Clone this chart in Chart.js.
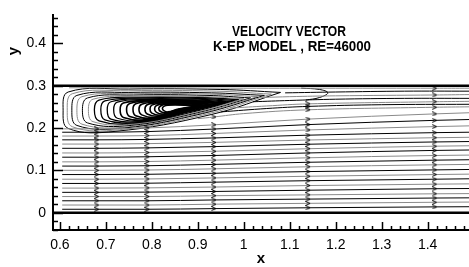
<!DOCTYPE html>
<html>
<head>
<meta charset="utf-8">
<script src="https://cdn.jsdelivr.net/npm/chart.js@4.4.1/dist/chart.umd.min.js"></script>
<style>
  html, body { margin: 0; padding: 0; background: #fff; }
  canvas { display: block; }
</style>
</head>
<body>
<canvas id="chart" width="469" height="267"></canvas>
<script>
// axis ticks
const X_TICKS = [0.6, 0.7, 0.8, 0.9, 1, 1.1, 1.2, 1.3, 1.4];
const Y_TICKS = [0, 0.1, 0.2, 0.3, 0.4];

// x stations of the lower streamtraces (inner ones carry the arrow heads)
const STATION_X = [0.605, 0.68, 0.79, 0.935, 1.14, 1.415, 1.49];
const ARROW_X = [0.68, 0.79, 0.935, 1.14, 1.415];

// lower streamtraces: y at each station
const LOWER_Y = [
  [0.008, 0.008, 0.008, 0.0095, 0.0115, 0.0136, 0.014],
  [0.018, 0.018, 0.018, 0.020, 0.022, 0.0245, 0.025],
  [0.028, 0.028, 0.028, 0.030, 0.032, 0.0345, 0.035],
  [0.038, 0.038, 0.038, 0.040, 0.042, 0.0445, 0.045],
  [0.048, 0.048, 0.0485, 0.050, 0.053, 0.0565, 0.057],
  [0.058, 0.058, 0.0585, 0.0605, 0.064, 0.0673, 0.068],
  [0.069, 0.069, 0.0695, 0.072, 0.0755, 0.079, 0.080],
  [0.079, 0.079, 0.0796, 0.082, 0.086, 0.090, 0.091],
  [0.090, 0.090, 0.0906, 0.093, 0.097, 0.101, 0.102],
  [0.100, 0.100, 0.1007, 0.1035, 0.1084, 0.113, 0.114],
  [0.110, 0.110, 0.1108, 0.114, 0.119, 0.124, 0.125],
  [0.120, 0.120, 0.1208, 0.124, 0.1296, 0.135, 0.136],
  [0.131, 0.131, 0.132, 0.135, 0.141, 0.147, 0.148],
  [0.141, 0.141, 0.142, 0.145, 0.151, 0.157, 0.158],
  [0.152, 0.152, 0.153, 0.156, 0.1616, 0.167, 0.168],
  [0.162, 0.162, 0.163, 0.166, 0.1716, 0.177, 0.178],
  [0.172, 0.172, 0.173, 0.1765, 0.183, 0.189, 0.190],
  [0.181, 0.181, 0.182, 0.187, 0.1954, 0.2033, 0.205],
  [0.190, 0.190, 0.1915, 0.1975, 0.208, 0.218, 0.220],
  [0.198, 0.198, 0.200, 0.2075, 0.221, 0.2333, 0.236],
];

// streamtraces leaving the bubble towards the outlet
const UPPER_LINES = [
  [[0.90, 0.222], [0.935, 0.226], [1.0, 0.234], [1.14, 0.243], [1.415, 0.249], [1.49, 0.250]],
  [[0.95, 0.238], [1.05, 0.246], [1.14, 0.251], [1.30, 0.255], [1.49, 0.256]],
  [[0.97, 0.247], [1.05, 0.252], [1.14, 0.257], [1.415, 0.262], [1.49, 0.263]],
  [[1.02, 0.262], [1.10, 0.265], [1.20, 0.268], [1.35, 0.270], [1.49, 0.270]],
  [[1.04, 0.272], [1.10, 0.274], [1.20, 0.276], [1.415, 0.278], [1.49, 0.279]],
  [[1.09, 0.283], [1.20, 0.285], [1.35, 0.287], [1.49, 0.287]],
  [[0.62, 0.295], [0.80, 0.295], [1.0, 0.294], [1.2, 0.294], [1.415, 0.294], [1.49, 0.294]],
  [[1.125, 0.294], [1.165, 0.291], [1.183, 0.283], [1.165, 0.272], [1.135, 0.266]],
];

// closed recirculation loops: tip, top, left end, bottom, back to tip
const VORTEX = [
  [[1.08, 0.284], [0.95, 0.291], [0.75, 0.292], [0.618, 0.285], [0.607, 0.242], [0.618, 0.199], [0.72, 0.192], [0.93, 0.232], [1.08, 0.284]],
  [[1.06, 0.280], [0.94, 0.287], [0.75, 0.288], [0.627, 0.281], [0.616, 0.242], [0.627, 0.203], [0.73, 0.196], [0.92, 0.233], [1.06, 0.280]],
  [[1.045, 0.277], [0.93, 0.283], [0.75, 0.284], [0.637, 0.277], [0.626, 0.242], [0.637, 0.206], [0.74, 0.200], [0.91, 0.234], [1.045, 0.277]],
  [[1.03, 0.274], [0.925, 0.280], [0.76, 0.281], [0.648, 0.274], [0.637, 0.242], [0.648, 0.209], [0.75, 0.203], [0.905, 0.235], [1.03, 0.274]],
  [[1.015, 0.271], [0.92, 0.277], [0.76, 0.278], [0.660, 0.271], [0.649, 0.242], [0.660, 0.212], [0.755, 0.206], [0.90, 0.236], [1.015, 0.271]],
  [[1.0, 0.269], [0.915, 0.274], [0.77, 0.275], [0.672, 0.268], [0.662, 0.243], [0.672, 0.215], [0.76, 0.209], [0.895, 0.237], [1.0, 0.269]],
  [[0.99, 0.267], [0.91, 0.272], [0.77, 0.273], [0.685, 0.266], [0.675, 0.243], [0.685, 0.217], [0.77, 0.211], [0.89, 0.238], [0.99, 0.267]],
  [[0.98, 0.265], [0.905, 0.270], [0.78, 0.271], [0.698, 0.264], [0.689, 0.243], [0.698, 0.219], [0.775, 0.213], [0.885, 0.239], [0.98, 0.265]],
  [[0.97, 0.263], [0.90, 0.268], [0.78, 0.269], [0.711, 0.262], [0.703, 0.243], [0.711, 0.221], [0.78, 0.215], [0.88, 0.239], [0.97, 0.263]],
  [[0.962, 0.262], [0.90, 0.266], [0.79, 0.267], [0.725, 0.261], [0.717, 0.243], [0.725, 0.223], [0.79, 0.217], [0.877, 0.240], [0.962, 0.262]],
  [[0.955, 0.260], [0.895, 0.264], [0.79, 0.265], [0.738, 0.259], [0.731, 0.243], [0.738, 0.225], [0.795, 0.219], [0.874, 0.241], [0.955, 0.260]],
  [[0.948, 0.259], [0.89, 0.263], [0.80, 0.264], [0.752, 0.258], [0.745, 0.244], [0.752, 0.227], [0.80, 0.221], [0.871, 0.241], [0.948, 0.259]],
  [[0.941, 0.258], [0.89, 0.261], [0.80, 0.262], [0.765, 0.257], [0.759, 0.244], [0.765, 0.229], [0.805, 0.223], [0.868, 0.242], [0.941, 0.258]],
  [[0.934, 0.256], [0.885, 0.260], [0.81, 0.261], [0.778, 0.256], [0.772, 0.244], [0.778, 0.231], [0.81, 0.225], [0.866, 0.242], [0.934, 0.256]],
  [[0.927, 0.255], [0.885, 0.259], [0.815, 0.260], [0.790, 0.255], [0.785, 0.244], [0.790, 0.233], [0.815, 0.228], [0.864, 0.243], [0.927, 0.255]],
  [[0.920, 0.254], [0.88, 0.258], [0.82, 0.259], [0.800, 0.254], [0.796, 0.245], [0.800, 0.235], [0.82, 0.230], [0.862, 0.243], [0.920, 0.254]],
  [[0.913, 0.253], [0.878, 0.257], [0.825, 0.257], [0.810, 0.253], [0.806, 0.245], [0.810, 0.237], [0.825, 0.233], [0.860, 0.244], [0.913, 0.253]],
  [[0.905, 0.252], [0.875, 0.255], [0.83, 0.256], [0.819, 0.252], [0.815, 0.246], [0.819, 0.239], [0.83, 0.236], [0.860, 0.244], [0.905, 0.252]],
  [[0.897, 0.251], [0.87, 0.254], [0.835, 0.254], [0.826, 0.251], [0.823, 0.246], [0.826, 0.241], [0.835, 0.238], [0.858, 0.245], [0.897, 0.251]],
];

// channel walls
const WALL_Y = [0, 0.3];
const X_MIN = 0.585, X_MAX = 1.49, Y_MIN = -0.041, Y_MAX = 0.466;

const FONT = '"Liberation Sans", Arial, sans-serif';
const BLACK = '#000000', GRAY = '#8a8a8a';

// small open ">" head used as point style
const arrowHead = document.createElement('canvas');
arrowHead.width = 6; arrowHead.height = 5;
(function () {
  const g = arrowHead.getContext('2d');
  g.strokeStyle = '#000'; g.lineWidth = 1;
  g.beginPath(); g.moveTo(0.5, 0.5); g.lineTo(5, 2.5); g.lineTo(0.5, 4.5); g.stroke();
})();

function trace(points, color, opts) {
  return Object.assign({
    data: points.map(([x, y]) => ({ x, y })),
    borderColor: color,
    borderWidth: 1,
    pointStyle: arrowHead,
    pointRadius: (c) => (c.raw && ARROW_X.includes(c.raw.x) ? 3 : 0),
    tension: 0,
    fill: false,
  }, opts || {});
}

const datasets = [];
LOWER_Y.forEach((ys, i) => {
  datasets.push(trace(ys.map((y, j) => [STATION_X[j], y]), i % 2 ? GRAY : BLACK, { cubicInterpolationMode: 'monotone' }));
});
UPPER_LINES.forEach((pts, i) => {
  datasets.push(trace(pts, i % 2 ? BLACK : GRAY, { tension: 0.4 }));
});
VORTEX.forEach((pts, i) => {
  datasets.push(trace(pts, i < 6 && i % 2 ? GRAY : BLACK, { tension: 0.4, pointRadius: 0, borderWidth: i > 9 ? 1.6 : i > 5 ? 1.3 : 1 }));
});
WALL_Y.forEach((y) => {
  datasets.push(trace([[X_MIN, y], [X_MAX, y]], BLACK, { borderWidth: 2.5, pointRadius: 0 }));
});

const fmt = (v) => String(Math.round(v * 10) / 10);

const decor = {
  id: 'decor',
  afterDraw(chart) {
    const { ctx, scales: { x, y }, chartArea: a } = chart;
    ctx.save();
    ctx.strokeStyle = '#000';
    ctx.lineWidth = 1.5;
    ctx.beginPath();
    for (let i = 30; i <= 74; i++) {
      const px = Math.round(x.getPixelForValue(i / 50)) + 0.5;
      const len = i % 5 === 0 ? 8 : 4;
      ctx.moveTo(px, a.bottom); ctx.lineTo(px, a.bottom - len);
    }
    for (let i = -2; i <= 23; i++) {
      const py = Math.round(y.getPixelForValue(i / 50)) + 0.5;
      const len = i % 5 === 0 ? 10 : 5;
      ctx.moveTo(a.left, py); ctx.lineTo(a.left + len, py);
    }
    ctx.stroke();

    ctx.fillStyle = '#000';
    ctx.textAlign = 'center';
    ctx.textBaseline = 'alphabetic';
    ctx.font = 'bold 14px ' + FONT;
    ctx.fillText('VELOCITY VECTOR', 289, 36, 114);
    ctx.fillText('K-EP MODEL , RE=46000', 292, 51, 158);

    ctx.font = 'bold 15px ' + FONT;
    ctx.fillText('x', (a.left + a.right) / 2, 263);
    ctx.translate(14, 51);
    ctx.rotate(-Math.PI / 2);
    ctx.textBaseline = 'middle';
    ctx.fillText('y', 0, 0);
    ctx.restore();
  },
};

new Chart(document.getElementById('chart'), {
  type: 'line',
  data: { datasets },
  options: {
    responsive: false,
    animation: false,
    events: [],
    layout: { padding: { top: 7, right: 0, left: 0, bottom: 0 } },
    plugins: { legend: { display: false }, tooltip: { enabled: false } },
    scales: {
      x: {
        type: 'linear', min: X_MIN, max: X_MAX,
        afterBuildTicks: (s) => { s.ticks = X_TICKS.map((v) => ({ value: v })); },
        afterFit: (s) => { s.height = 37; },
        grid: { display: false, drawTicks: false },
        border: { display: true, color: '#000', width: 2 },
        ticks: { color: '#000', font: { family: FONT, size: 14 }, padding: 7, maxRotation: 0, autoSkip: false, callback: fmt },
      },
      y: {
        type: 'linear', min: Y_MIN, max: Y_MAX,
        afterBuildTicks: (s) => { s.ticks = Y_TICKS.map((v) => ({ value: v })); },
        afterFit: (s) => { s.width = 53; },
        grid: { display: false, drawTicks: false },
        border: { display: true, color: '#000', width: 2 },
        ticks: { color: '#000', font: { family: FONT, size: 14 }, padding: 7, autoSkip: false, callback: fmt },
      },
    },
  },
  plugins: [decor],
});
</script>
</body>
</html>
